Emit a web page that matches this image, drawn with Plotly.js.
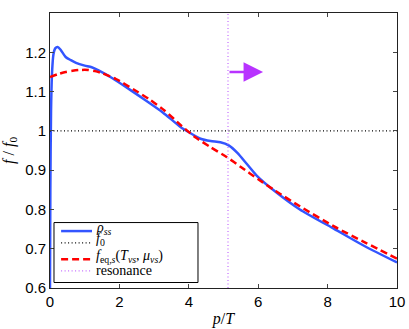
<!DOCTYPE html>
<html>
<head>
<meta charset="utf-8">
<script src="https://cdn.plot.ly/plotly-3.0.1.min.js"></script>
<style>
  html, body { margin: 0; padding: 0; background: #fff; }
  #myPlot { width: 409px; height: 329px; }
</style>
</head>
<body>
<div id="myPlot"></div>
<script>
// steady-state distribution rho_ss
var rhoX = [0, 0.01, 0.03, 0.06, 0.1, 0.15, 0.22, 0.3, 0.45, 0.6, 0.75, 1.0, 1.2, 1.4, 1.8, 2.3, 2.75, 3.25, 3.76, 4.05, 4.34, 4.63, 4.91, 5.15, 5.4, 5.68, 5.97, 6.5, 7.2, 8.2, 9.1, 10];
var rhoY = [0.6, 0.85, 1.05, 1.15, 1.195, 1.21, 1.2137, 1.207, 1.188, 1.18, 1.173, 1.166, 1.162, 1.154, 1.134, 1.105, 1.078, 1.047, 1.01, 0.994, 0.98, 0.974, 0.971, 0.963, 0.944, 0.915, 0.885, 0.845, 0.8, 0.75, 0.705, 0.665];

// equilibrium fit f_eq,s
var eqX = [0, 0.25, 0.45, 0.65, 0.85, 1.1, 1.3, 1.5, 1.9, 2.4, 2.85, 3.3, 3.8, 4.2, 4.6, 5.1, 5.5, 6.0, 6.5, 7.2, 8.2, 9.1, 10];
var eqY = [1.137, 1.145, 1.15, 1.153, 1.155, 1.155, 1.152, 1.147, 1.132, 1.106, 1.081, 1.052, 1.012, 0.983, 0.96, 0.933, 0.908, 0.877, 0.847, 0.808, 0.756, 0.715, 0.675];

// reference level f0 and resonance position
var f0X = [0, 10];
var f0Y = [1, 1];
var resX = [5.13, 5.13];
var resY = [0.6, 1.3];

var xTicks = [0, 2, 4, 6, 8, 10];
var yTicks = [0.6, 0.7, 0.8, 0.9, 1, 1.1, 1.2];

var names = [
    "<i>ρ</i><sub><i>ss</i></sub>",
    "<i>f</i><sub>0</sub>",
    "<i>f</i><sub>eq,<i>s</i></sub>(<i>T</i><sub><i>νs</i></sub>, <i>μ</i><sub><i>νs</i></sub>)",
    "resonance"
];

var rhoLine = { color: "#3355ff", width: 2.5, shape: "spline", smoothing: 0.6 };
var f0Line = { color: "#000000", width: 1.2, dash: "1px,2.5px" };
var eqLine = { color: "#ff0000", width: 2.5, dash: "7px,4px", shape: "spline", smoothing: 0.6 };
var resLine = { color: "#c36bff", width: 1.2, dash: "1px,2.5px" };
var lines = [rhoLine, f0Line, eqLine, resLine];

var data = [
    { x: rhoX, y: rhoY, mode: "lines", name: names[0], line: rhoLine },
    { x: f0X, y: f0Y, mode: "lines", name: names[1], line: f0Line },
    { x: eqX, y: eqY, mode: "lines", name: names[2], line: eqLine },
    { x: resX, y: resY, mode: "lines", name: names[3], line: resLine }
];

// matlab-style compact legend box (paper coords)
var legRows = [0.207, 0.164, 0.105, 0.062];
var legShift = [3, 3, 3, 0];
var shapes = [{
    type: "rect", xref: "paper", yref: "paper",
    x0: 0.0115, x1: 0.4265, y0: 0.02, y1: 0.238,
    line: { color: "#000", width: 1 }, fillcolor: "#fff", layer: "above"
}];
var annotations = [];
for (var i = 0; i < names.length; i++) {
    shapes.push({
        type: "line", xref: "paper", yref: "paper", layer: "above",
        x0: 0.032, x1: 0.121, y0: legRows[i], y1: legRows[i],
        line: { color: lines[i].color, width: lines[i].width, dash: lines[i].dash || "solid" }
    });
    annotations.push({
        xref: "paper", yref: "paper", x: 0.127, y: legRows[i], yshift: legShift[i],
        xanchor: "left", yanchor: "middle", showarrow: false, text: names[i],
        font: { family: "Liberation Serif, serif", size: 14, color: "#000" }
    });
}

// arrow pointing right from the resonance
annotations.push({
    x: 6.14, y: 1.15, ax: 5.13, ay: 1.15,
    xref: "x", yref: "y", axref: "x", ayref: "y",
    showarrow: true, arrowhead: 2, arrowsize: 1.5, arrowwidth: 2.6,
    arrowcolor: "#b833ff", text: ""
});

var layout = {
    width: 409,
    height: 329,
    margin: { l: 50, r: 12, t: 13, b: 41 },
    paper_bgcolor: "#ffffff",
    plot_bgcolor: "#ffffff",
    font: { family: "Liberation Sans, Arial, sans-serif", size: 15, color: "#000" },
    showlegend: false,
    xaxis: {
        range: [0, 10], tickvals: xTicks, ticks: "inside", ticklen: 4,
        showline: true, mirror: "ticks", linecolor: "#222", linewidth: 1,
        showgrid: false, zeroline: false,
        title: { text: "<i>p</i>/<i>T</i>", font: { family: "Liberation Serif, serif", size: 16 }, standoff: 3 }
    },
    yaxis: {
        range: [0.6, 1.3], tickvals: yTicks, ticks: "inside", ticklen: 4,
        showline: true, mirror: "ticks", linecolor: "#222", linewidth: 1,
        showgrid: false, zeroline: false,
        title: { text: "<i>f</i> / <i>f</i><sub>0</sub>", font: { family: "Liberation Serif, serif", size: 16 }, standoff: 6 }
    },
    shapes: shapes,
    annotations: annotations
};

Plotly.newPlot("myPlot", data, layout, { displayModeBar: false, staticPlot: true });
</script>
</body>
</html>
